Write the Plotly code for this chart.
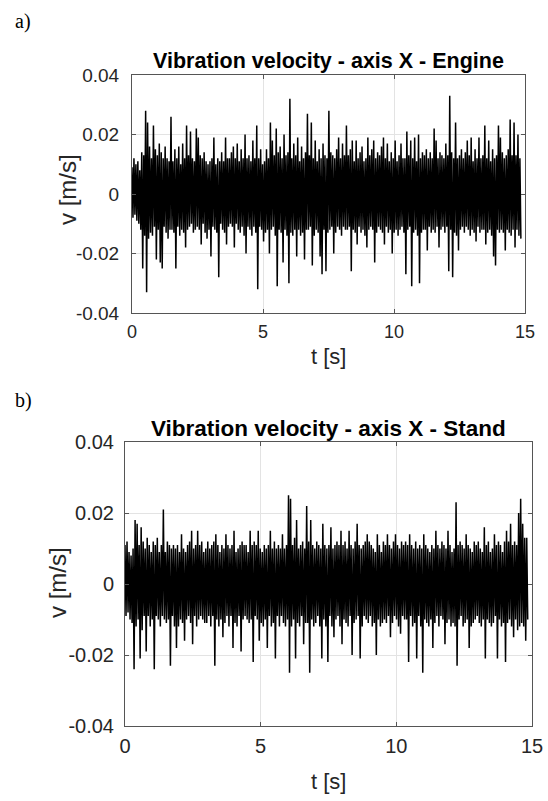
import numpy as np
import plotly.graph_objects as go

# ---------------- data ----------------
# vibration velocity, axis X, in mm/s (converted to m/s below)
sample_dt = 0.0372  # s between samples

engine_vx_mm = [
    9, -8, 12, -7, 10, -9, 11, -10, 8, -12, 14, -25, 13, -14, 28, -33, 24, -15, 16, -13,
    12, -14, 23, -11, 15, -22, 13, -12, 17, -23, 14, -25, 12, -11, 16, -13, 12, -15, 11, -12,
    26, -12, 11, -13, 15, -25, 12, -11, 16, -14, 10, -12, 17, -13, 12, -18, 23, -12, 13, -11,
    21, -10, 12, -13, 11, -12, 22, -11, 19, -12, 13, -17, 12, -10, 14, -13, 11, -15, 10, -12,
    11, -21, 12, -11, 19, -12, 10, -13, 12, -28, 11, -10, 14, -12, 11, -13, 19, -17, 12, -11,
    12, -10, 14, -11, 16, -18, 12, -10, 17, -12, 11, -13, 15, -11, 12, -14, 20, -20, 12, -11,
    13, -12, 11, -14, 18, -11, 12, -13, 23, -32, 12, -11, 15, -12, 10, -16, 11, -13, 15, -12,
    12, -20, 24, -12, 18, -11, 13, -14, 22, -31, 14, -12, 16, -13, 12, -23, 20, -12, 13, -14,
    14, -30, 32, -13, 12, -14, 17, -12, 13, -21, 19, -12, 11, -14, 16, -13, 12, -22, 14, -12,
    27, -12, 13, -11, 24, -24, 12, -14, 18, -12, 11, -13, 15, -21, 12, -27, 17, -12, 13, -26,
    12, -13, 28, -12, 14, -11, 13, -20, 12, -13, 15, -11, 19, -12, 12, -14, 17, -11, 13, -12,
    23, -12, 13, -11, 15, -26, 18, -12, 11, -13, 18, -17, 12, -11, 14, -13, 16, -12, 11, -14,
    12, -18, 19, -12, 13, -11, 15, -12, 18, -23, 12, -13, 14, -11, 13, -12, 16, -13, 19, -17,
    12, -11, 17, -13, 11, -12, 14, -20, 12, -13, 18, -12, 11, -14, 13, -12, 17, -11, 12, -13,
    12, -27, 21, -12, 13, -11, 18, -31, 12, -13, 19, -12, 11, -14, 20, -30, 12, -13, 14, -12,
    13, -12, 15, -19, 12, -11, 14, -13, 12, -12, 22, -13, 18, -11, 12, -18, 14, -12, 13, -11,
    12, -13, 17, -11, 13, -26, 33, -12, 14, -28, 12, -13, 24, -14, 12, -19, 13, -12, 15, -11,
    12, -13, 14, -11, 18, -12, 13, -14, 19, -12, 11, -13, 15, -16, 12, -11, 19, -13, 12, -12,
    13, -12, 23, -17, 12, -13, 18, -12, 11, -14, 15, -21, 12, -24, 13, -12, 23, -13, 19, -12,
    14, -13, 12, -19, 13, -12, 15, -13, 25, -14, 13, -12, 24, -18, 13, -12, 20, -14, 12, -15,
]

stand_vx_mm = [
    11, -9, 12, -8, 9, -10, 8, -11, 10, -24, 18, -12, 17, -10, 11, -21, 16, -13, 12, -9,
    10, -19, 13, -9, 11, -12, 9, -10, 12, -24, 11, -9, 13, -10, 9, -12, 11, -9, 21, -10,
    9, -11, 12, -10, 11, -23, 10, -9, 11, -12, 10, -18, 11, -12, 9, -10, 14, -11, 10, -16,
    9, -10, 11, -9, 12, -11, 15, -17, 10, -9, 11, -12, 15, -10, 11, -9, 12, -10, 9, -11,
    10, -11, 12, -9, 10, -12, 11, -9, 12, -23, 14, -10, 11, -12, 9, -10, 11, -15, 10, -11,
    14, -9, 11, -12, 10, -9, 11, -18, 15, -11, 9, -12, 10, -9, 11, -19, 12, -10, 11, -9,
    11, -10, 9, -11, 15, -10, 11, -22, 12, -9, 11, -10, 15, -16, 10, -11, 9, -12, 11, -10,
    10, -18, 11, -9, 15, -12, 10, -11, 12, -21, 10, -9, 11, -12, 10, -9, 14, -11, 10, -12,
    11, -10, 25, -25, 24, -12, 11, -10, 13, -21, 18, -11, 10, -12, 11, -9, 12, -17, 10, -11,
    22, -11, 12, -25, 18, -10, 11, -12, 10, -11, 12, -9, 11, -12, 10, -21, 17, -10, 11, -12,
    10, -22, 11, -9, 16, -12, 10, -15, 11, -10, 12, -9, 11, -12, 15, -17, 11, -10, 12, -11,
    10, -12, 15, -9, 11, -20, 10, -11, 12, -10, 17, -9, 11, -21, 10, -12, 11, -9, 12, -10,
    14, -11, 12, -9, 11, -12, 10, -11, 9, -20, 14, -10, 11, -12, 9, -11, 12, -10, 11, -11,
    14, -9, 11, -15, 10, -11, 12, -9, 14, -10, 11, -12, 10, -14, 12, -9, 11, -10, 12, -10,
    11, -22, 14, -9, 11, -12, 10, -11, 12, -21, 10, -9, 11, -12, 10, -25, 14, -10, 11, -11,
    10, -12, 9, -10, 11, -18, 10, -11, 15, -9, 11, -12, 10, -9, 12, -10, 11, -17, 10, -11,
    15, -10, 11, -12, 9, -11, 10, -12, 23, -23, 11, -10, 12, -9, 11, -12, 10, -11, 14, -10,
    11, -18, 10, -12, 9, -11, 12, -10, 11, -9, 12, -11, 10, -12, 9, -10, 16, -21, 11, -10,
    12, -11, 9, -12, 10, -11, 14, -9, 11, -21, 12, -10, 11, -12, 9, -11, 12, -22, 15, -11,
    12, -10, 17, -12, 11, -15, 12, -10, 11, -13, 20, -12, 24, -11, 17, -12, 13, -16, 13, -10,
]

x_tick_vals = [0, 5, 10, 15]
x_tick_text = ["0", "5", "10", "15"]
y_tick_vals = [-0.04, -0.02, 0, 0.02, 0.04]
y_tick_text = ["-0.04", "-0.02", "0", "0.02", "0.04"]

title_a = "Vibration velocity - axis X - Engine"
title_b = "Vibration velocity - axis X - Stand"
x_label = "t [s]"
y_label = "v [m/s]"

# ---------------- figure ----------------
W, H = 548, 801
t_engine = np.arange(len(engine_vx_mm)) * sample_dt
t_stand = np.arange(len(stand_vx_mm)) * sample_dt
v_engine = np.array(engine_vx_mm) / 1000.0
v_stand = np.array(stand_vx_mm) / 1000.0

def px(x):
    return x / W

def py(y):
    return 1 - y / H

fig = go.Figure()
fig.add_trace(go.Scatter(x=t_engine, y=v_engine, mode="lines",
                         line=dict(color="black", width=1.5, simplify=False),
                         xaxis="x", yaxis="y", showlegend=False, hoverinfo="skip"))
fig.add_trace(go.Scatter(x=t_stand, y=v_stand, mode="lines",
                         line=dict(color="black", width=1.5, simplify=False),
                         xaxis="x2", yaxis="y2", showlegend=False, hoverinfo="skip"))

font_main = "Liberation Sans, Arial, sans-serif"
axcol = "#262626"

def xaxis(domain, anchor, size):
    return dict(domain=domain, anchor=anchor, range=[0, 15], tickvals=x_tick_vals,
                ticktext=x_tick_text, showgrid=True, gridcolor="#e3e3e3", gridwidth=1,
                zeroline=False, showline=True, linecolor="#555555", linewidth=1,
                mirror="ticks", ticks="inside", ticklen=4, tickcolor="#555555",
                tickfont=dict(family=font_main, size=size, color=axcol),
                ticklabelstandoff=2, automargin=False)

def yaxis(domain, anchor, size, standoff):
    return dict(domain=domain, anchor=anchor, range=[-0.04, 0.04], tickvals=y_tick_vals,
                ticktext=y_tick_text, showgrid=True, gridcolor="#e3e3e3", gridwidth=1,
                zeroline=False, showline=True, linecolor="#555555", linewidth=1,
                mirror="ticks", ticks="inside", ticklen=4, tickcolor="#555555",
                tickfont=dict(family=font_main, size=size, color=axcol),
                ticklabelstandoff=standoff, automargin=False)

fig.update_layout(
    template="none",
    width=W, height=H, autosize=False,
    margin=dict(l=0, r=0, t=0, b=0, pad=0),
    paper_bgcolor="white", plot_bgcolor="white",
    xaxis=xaxis([px(132), px(525)], "y", 18),
    yaxis=yaxis([py(313), py(75)], "x", 19, 8),
    xaxis2=xaxis([px(125), px(532)], "y2", 20),
    yaxis2=yaxis([py(726), py(442)], "x2", 20, 6),
)

ann = []
def text(x, y, s, size, family=font_main, bold=False, angle=0, color=axcol):
    ann.append(dict(x=px(x), y=py(y), xref="paper", yref="paper", text=(f"<b>{s}</b>" if bold else s),
                    showarrow=False, font=dict(family=family, size=size, color=color),
                    textangle=angle, xanchor="center", yanchor="middle"))

text(23, 22, "a)", 20, family="Liberation Serif, Times New Roman, serif", color="black")
text(23, 400, "b)", 20, family="Liberation Serif, Times New Roman, serif", color="black")
text(328, 61, title_a, 21.5, bold=True, color="black")
text(328, 428, title_b, 22.5, bold=True, color="black")
text(328, 356, x_label, 22)
text(328, 781, x_label, 22)
text(67, 190, y_label, 24, angle=-90)
text(57, 583, y_label, 24, angle=-90)
fig.update_layout(annotations=ann)

fig.write_html("out.html", config={"displayModeBar": False, "staticPlot": True},
               post_script="document.body.style.margin='0';document.body.style.overflow='hidden';")
